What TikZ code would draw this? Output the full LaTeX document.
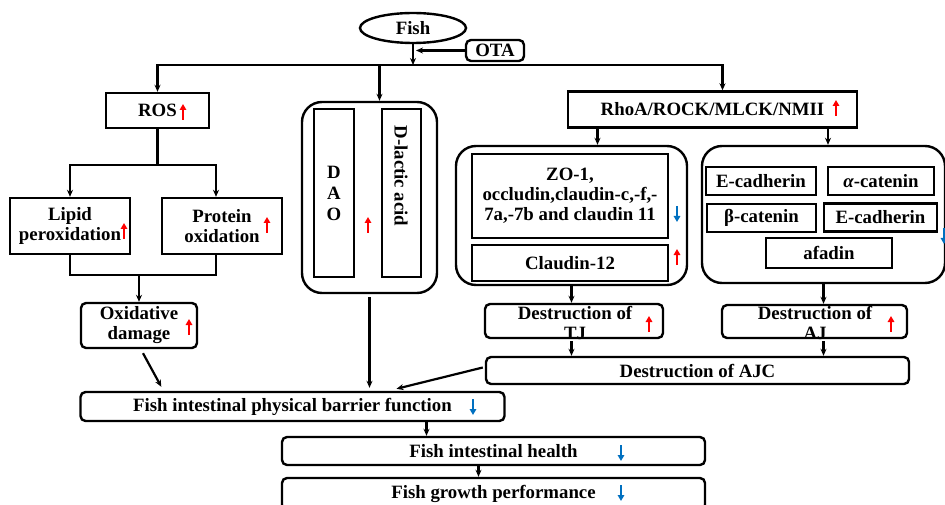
\documentclass[tikz,border=0pt]{standalone}
\usepackage{fontspec}
\setmainfont{Liberation Serif}
\usetikzlibrary{arrows.meta, positioning, calc, shapes.geometric}
\definecolor{upred}{RGB}{255, 0, 0}
\definecolor{downblue}{RGB}{0, 112, 192}

\begin{document}
\begin{tikzpicture}[x=1pt, y=-1pt, font=\bfseries\fontsize{18.8}{20}\selectfont,
    box/.style={draw, line width=2.4pt, inner sep=0pt, align=center},
    rbox/.style={box, rounded corners=5pt},
    group/.style={draw, line width=2.4pt, rounded corners=20pt, inner sep=0pt},
    txt/.style={inner sep=0pt, align=center},
    arr/.style={line width=2.2pt, -{Stealth[length=7pt, width=6pt]}},
    link/.style={line width=2.2pt},
    redup/.style={draw=upred, line width=2.4pt, -{Triangle[length=6pt, width=6.5pt]}},
    bluedown/.style={draw=downblue, line width=2.4pt, -{Triangle[length=6pt, width=6.5pt]}}]
    \useasboundingbox (0,0) rectangle (945,505);

    % top
    \node[ellipse, draw, line width=2.4pt, minimum width=106, minimum height=30, inner sep=0pt] (fish) at (413,28) {Fish};
    \node[rbox, minimum width=58, minimum height=21] (ota) at (495,50.5) {OTA};
    \coordinate (split) at (413,65);

    % oxidative branch
    \node[box, minimum width=103, minimum height=35] (ros) at (157.5,110.5) {ROS};
    \node[box, minimum width=120, minimum height=56] (lipid) at (70,226) {Lipid\\peroxidation};
    \node[box, minimum width=120, minimum height=56] (protein) at (222,226) {Protein\\oxidation};
    \node[rbox, minimum width=116, minimum height=45] (oxid) at (139,325.5) {Oxidative\\damage};

    % DAO branch
    \node[group, minimum width=135, minimum height=191] (daog) at (369.5,197.5) {};
    \node[box, minimum width=40, minimum height=168] (dao) at (334,193) {};
    \node[txt, font=\bfseries\fontsize{18.8}{21}\selectfont] (daot) at (334,193) {D\\A\\O};
    \node[box, minimum width=39, minimum height=168] (dla) at (401.5,193) {};
    \node[txt, rotate=-90] (dlat) at (401,176) {D-lactic acid};

    % junction branch
    \node[box, minimum width=289, minimum height=36] (rhoa) at (712.5,109.5) {RhoA/ROCK/MLCK/NMII};
    \node[group, minimum width=231, minimum height=139] (tjg) at (571.5,215.5) {};
    \node[box, minimum width=196, minimum height=84] (zo) at (570,196) {ZO-1,\\occludin,claudin-c,-f,-\\7a,-7b and claudin 11};
    \node[box, minimum width=196, minimum height=36] (cl12) at (570,263) {Claudin-12};
    \node[group, minimum width=243, minimum height=137] (ajg) at (823.5,214.5) {};
    \node[box, minimum width=110, minimum height=28] (ecad1) at (761,181) {E-cadherin};
    \node[box, minimum width=106, minimum height=28] (acat) at (881,181) {{\itshape α}-catenin};
    \node[box, minimum width=109, minimum height=28] (bcat) at (761.5,218) {β-catenin};
    \node[box, minimum width=113, minimum height=28] (ecad2) at (880.5,217.5) {E-cadherin};
    \node[box, minimum width=126, minimum height=30] (afadin) at (829,253) {afadin};
    \node[rbox, minimum width=178, minimum height=34] (dtj) at (574,321) {};
    \node[txt] (dtjt) at (575,323) {Destruction of\\TJ};
    \node[rbox, minimum width=185, minimum height=33] (daj) at (814.5,321.5) {};
    \node[txt] (dajt) at (815,323) {Destruction of\\AJ};
    \node[rbox, minimum width=423, minimum height=27] (ajc) at (697.5,370.5) {Destruction of AJC};

    % outcome
    \node[rbox, minimum width=424, minimum height=29] (barrier) at (292.5,406.5) {Fish intestinal physical barrier function};
    \node[rbox, minimum width=423, minimum height=28] (health) at (493.5,451) {Fish intestinal health};
    \node[rbox, minimum width=423, minimum height=32] (growth) at (493.5,494) {Fish growth performance};

    % connectors
    \draw[arr] (fish) -- (split);
    \draw[arr, shorten >=3pt] (ota.west) -- (ota.west -| split);
    \draw[arr] (split) -| (ros);
    \draw[arr] (split) -| ($(rhoa.north)+(10,0)$);
    \coordinate (daoin) at ($(daog.north)+(10,0)$);
    \draw[arr] (split -| daoin) -- (daoin);

    \coordinate (rosfork) at ($(ros.south)+(0,36)$);
    \draw[link] (ros) -- (rosfork);
    \draw[arr] (rosfork) -| (lipid);
    \draw[arr] (rosfork) -| ($(protein.north)+(-6,0)$);
    \coordinate (oxjoin) at ($(oxid.north)+(0,-27)$);
    \draw[link] (lipid) |- (oxjoin);
    \draw[link] ($(protein.south)+(-6,0)$) |- (oxjoin);
    \draw[arr] (oxjoin) -- (oxid);
    \draw[arr] ($(oxid.south)+(4,4)$) -- ($(barrier.north west)+(82,-4)$);

    \draw[arr, shorten <=3pt, shorten >=3pt] (daog.south) -- (daog.south |- barrier.north);

    \coordinate (r2tj) at ($(tjg.north)+(26,0)$);
    \coordinate (r2aj) at ($(ajg.north)+(4.5,0)$);
    \draw[arr] (r2tj |- rhoa.south) -- (r2tj);
    \draw[arr] (r2aj |- rhoa.south) -- (r2aj);
    \draw[arr] (tjg.south) -- (tjg.south |- dtj.north);
    \draw[arr] (ajg.south) -- (ajg.south |- daj.north);
    \draw[arr] ($(tjg.south |- dtj.south)+(0,2)$) -- (tjg.south |- ajc.north);
    \draw[arr] ($(ajg.south |- daj.south)+(0,2)$) -- (ajg.south |- ajc.north);
    \draw[arr] ($(ajc.west)+(-2,-3)$) -- ($(barrier.north)+(104,-2)$);

    \coordinate (b2h) at ($(barrier.south)+(134,0)$);
    \draw[arr] (b2h) -- (b2h |- health.north);
    \coordinate (h2g) at ($(health.south)+(-15,0)$);
    \draw[arr] (h2g) -- (h2g |- growth.north);

    % up / down marks
    \draw[redup] (183,120) -- (183,104);
    \draw[redup] (124,239) -- (124,223);
    \draw[redup] (267,233) -- (267,217);
    \draw[redup] (189,335) -- (189,319);
    \draw[redup] (368,233) -- (368,217);
    \draw[redup] (836,116) -- (836,100);
    \draw[redup] (677,265) -- (677,249);
    \draw[redup] (649,332) -- (649,316);
    \draw[redup] (891,332) -- (891,316);
    \draw[bluedown] (677,206) -- (677,222);
    \draw[bluedown] (944,228) -- (944,244);
    \draw[bluedown] (473,399) -- (473,415);
    \draw[bluedown] (621,445) -- (621,461);
    \draw[bluedown] (621,485) -- (621,501);
\end{tikzpicture}
\end{document}
